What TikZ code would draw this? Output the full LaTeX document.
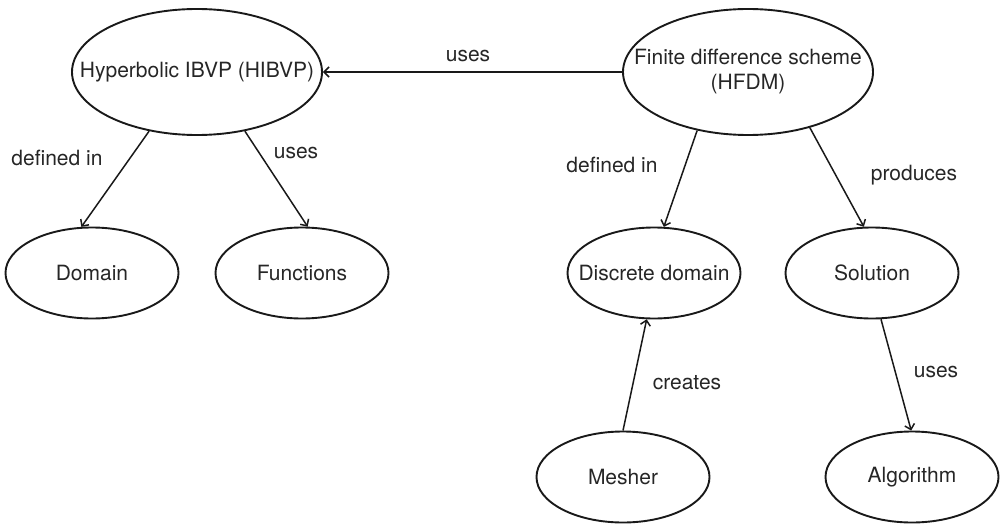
\documentclass[tikz,border=0pt]{standalone}
\usepackage{fontspec}
\setmainfont{TeX Gyre Heros}
\usetikzlibrary{shapes.geometric,arrows.meta}

% zero-width centred text, so that the ellipse keeps its own size
\newcommand{\ctext}[1]{\makebox[0pt]{#1}}

\begin{document}
\begin{tikzpicture}[x=1pt,y=-1pt,
  every node/.style={font=\fontsize{21}{26}\selectfont, text=black!85},
  bigconcept/.style={ellipse, draw=black!90, line width=1.9pt, inner sep=0pt,
                     minimum width=250pt, minimum height=126pt},
  concept/.style={ellipse, draw=black!90, line width=1.9pt, inner sep=0pt,
                  minimum width=173pt, minimum height=91pt},
  rel/.style={draw=black!90, line width=1.5pt,
              -{Straight Barb[length=5pt,width=10pt]}},
  reltext/.style={anchor=base, inner sep=0pt}]

\useasboundingbox (0,0) rectangle (1003,524);

% concepts
\node[bigconcept] (hibvp) at (197,72) {\ctext{Hyperbolic IBVP (HIBVP)}};
\node[bigconcept] (hfdm)  at (748,72)
  {\ctext{\begin{tabular}{@{}c@{}}Finite difference scheme\\[-1pt](HFDM)\end{tabular}}};
\node[concept] (domain)    at (92,273)  {\ctext{Domain}};
\node[concept] (functions) at (302,273) {\ctext{Functions}};
\node[concept] (discrete)  at (654,273) {\ctext{Discrete domain}};
\node[concept] (solution)  at (872,273) {\ctext{Solution}};
\node[concept] (mesher)    at (623,477) {\ctext{Mesher}};
\node[concept] (algorithm) at (912,477) {\ctext{Algorithm}};

% relations
\draw[rel] (hfdm.west) -- (hibvp.east);
\draw[rel] (hibvp.231.5) -- (domain.103);
\draw[rel] (hibvp.309) -- (functions.83.5);
\draw[rel] (hfdm.229) -- (discrete.78.4);
\draw[rel] (hfdm.318.9) -- (solution.100.3);
\draw[rel] (mesher.north) -- (discrete.261);
\draw[rel] (solution.281.5) -- (algorithm.91.3);

% relation labels
\node[reltext] (l-uses-top)   at (468,62)  {uses};
\node[reltext] (l-defined-l)  at (57,165)  {defined in};
\node[reltext] (l-uses-l)     at (296,158) {uses};
\node[reltext] (l-defined-r)  at (612,172) {defined in};
\node[reltext] (l-produces)   at (914,180) {produces};
\node[reltext] (l-creates)    at (687,389) {creates};
\node[reltext] (l-uses-r)     at (936,377) {uses};

\end{tikzpicture}
\end{document}
